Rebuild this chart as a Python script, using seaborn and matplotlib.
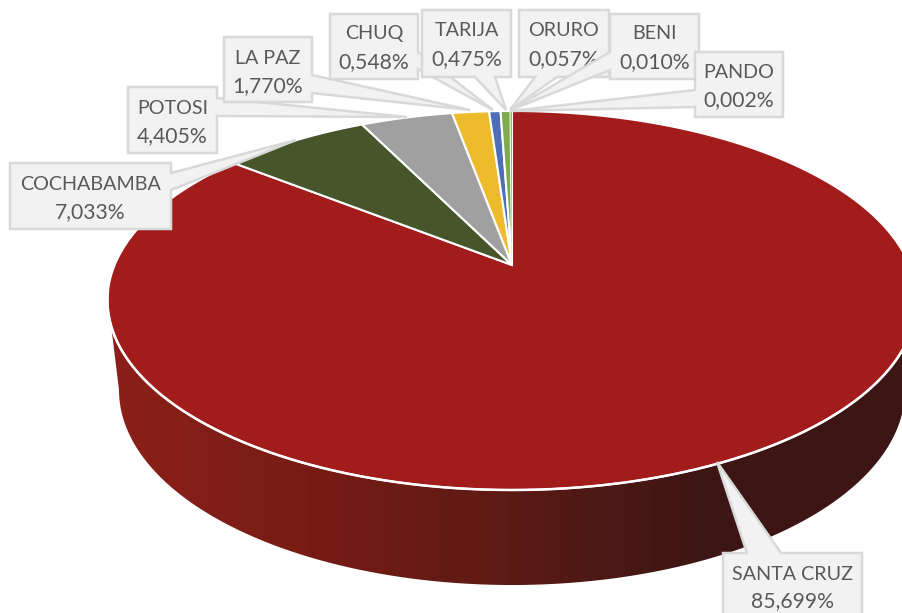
import numpy as np
import seaborn as sns
import matplotlib
matplotlib.use("Agg")
import matplotlib.pyplot as plt
from matplotlib.patches import Polygon

# ---- data ----
departments = ["SANTA CRUZ", "COCHABAMBA", "POTOSI", "LA PAZ", "CHUQ", "TARIJA", "ORURO", "BENI", "PANDO"]
shares = [85.699, 7.033, 4.405, 1.770, 0.548, 0.475, 0.057, 0.010, 0.002]
slice_colors = ["#A21C1C", "#46562A", "#A0A0A0", "#EDBB2B", "#4E6FB8", "#7EAB4E", "#7EAB4E", "#7EAB4E", "#7EAB4E"]

# ---- layout (pixels) ----
W, H = 903, 613
APEX_X, APEX_Y = 512, 265
TOP_Y, BOT_Y = 111, 490
HALF_W = 404.5
side_stops = ["#8C1F19", "#801E17", "#771C14", "#6A1B14", "#5D1A14", "#4B1815", "#3E1616", "#3D1515", "#3D1515"]

# left, right, top, bottom, side of pointer, pointer base a, b, tip x, tip y, name y, percent y
callouts = {
    "COCHABAMBA": (10, 171, 163, 229, "r", 173, 190, 296, 140, 183, 212),
    "POTOSI": (128, 217, 87, 153, "r", 98, 116, 407, 117, 107, 136),
    "LA PAZ": (224, 312, 37, 102, "r", 75, 93, 470, 110, 57, 86),
    "CHUQ": (330, 418, 14, 79, "r", 52, 69, 493, 110, 32, 62),
    "TARIJA": (422, 511, 10, 77, "b", 475, 495, 506, 110, 29, 59),
    "ORURO": (519, 609, 10, 77, "b", 535, 557, 510, 110, 29, 59),
    "BENI": (610, 699, 14, 79, "l", 52, 70, 511, 110, 32, 62),
    "PANDO": (695, 783, 52, 117, "l", 90, 107, 511, 111, 71, 100),
    "SANTA CRUZ": (723, 862, 553, 630, "t", 747, 781, 717, 462, 573, 601),
}

sns.set_theme(style="white")
plt.rcParams["font.family"] = ["Lato", "DejaVu Sans"]
palette = sns.color_palette(slice_colors)

fig = plt.figure(figsize=(W / 100, H / 100), dpi=100, facecolor="white")
ax = fig.add_axes([0, 0, 1, 1])

# perspective map of the pie disc
b = 2 / (1 / (APEX_Y - TOP_Y) + 1 / (BOT_Y - APEX_Y))
k = b / (APEX_Y - TOP_Y) - 1
a = HALF_W * np.sqrt(1 - k ** 2)


def disc(theta):
    x, y = np.sin(theta), np.cos(theta)
    d = 1 + k * y
    return np.column_stack([APEX_X + a * x / d, APEX_Y - b * y / d])


# side wall
phi = np.linspace(np.pi, 2 * np.pi, 300)
arc = np.column_stack([APEX_X + 393 * np.cos(phi), 390 - 195 * np.sin(phi)])
wall = np.vstack([[[108, 300]], arc, [[916, 300]]])
cmap = sns.blend_palette(side_stops, n_colors=60, as_cmap=True)
im = ax.imshow(np.linspace(0, 1, 60)[None, :], extent=(107, 905, 620, 280), cmap=cmap,
               aspect="auto", interpolation="nearest", zorder=1)
clip = Polygon(wall, closed=True, transform=ax.transData, fc="none", ec="none")
ax.add_patch(clip)
im.set_clip_path(clip)

# top slices
start = 0.0
total = sum(shares)
for name, val, col in zip(departments, shares, palette):
    end = start + val / total * 2 * np.pi
    th = np.linspace(start, end, max(3, int(val * 8)))
    pts = np.vstack([[[APEX_X, APEX_Y]], disc(th)])
    ax.add_patch(Polygon(pts, closed=True, fc=col, ec="white", lw=1.5 if val > 0.2 else 0, zorder=2, joinstyle="miter"))
    start = end

# white rim on the front of the top face
rim = disc(np.linspace(np.radians(98), np.radians(262), 300))
ax.plot(rim[:, 0], rim[:, 1], color="white", lw=1.8, zorder=3)

# callout labels
BOX_FC, BOX_EC, TXT = "#F2F2F2", "#D9D9D9", "#595959"
for z, key in enumerate(["COCHABAMBA", "POTOSI", "LA PAZ", "CHUQ", "TARIJA", "ORURO", "BENI", "PANDO", "SANTA CRUZ"]):
    l, r, t, btm, side, p, q, tx, ty, y1, y2 = callouts[key]
    if side == "r":
        pts = [(l, t), (r, t), (r, p), (tx, ty), (r, q), (r, btm), (l, btm)]
    elif side == "l":
        pts = [(l, t), (r, t), (r, btm), (l, btm), (l, q), (tx, ty), (l, p)]
    elif side == "b":
        pts = [(l, t), (r, t), (r, btm), (q, btm), (tx, ty), (p, btm), (l, btm)]
    else:
        pts = [(l, t), (p, t), (tx, ty), (q, t), (r, t), (r, btm), (l, btm)]
    ax.add_patch(Polygon(pts, closed=True, fc=BOX_FC, ec=BOX_EC, lw=1.8, zorder=5 + z, joinstyle="miter"))
    val = shares[departments.index(key)]
    cx = (l + r) / 2
    ax.text(cx, y1 + 7, key, ha="center", va="baseline", fontsize=14.2, color=TXT, zorder=5 + z + 0.5)
    ax.text(cx, y2 + 6.5, f"{val:.3f}%".replace(".", ","), ha="center", va="baseline", fontsize=15.2, color=TXT, zorder=5 + z + 0.5)

ax.set_xlim(0, W)
ax.set_ylim(H, 0)
ax.axis("off")
fig.savefig("out.png", dpi=100, facecolor="white")
